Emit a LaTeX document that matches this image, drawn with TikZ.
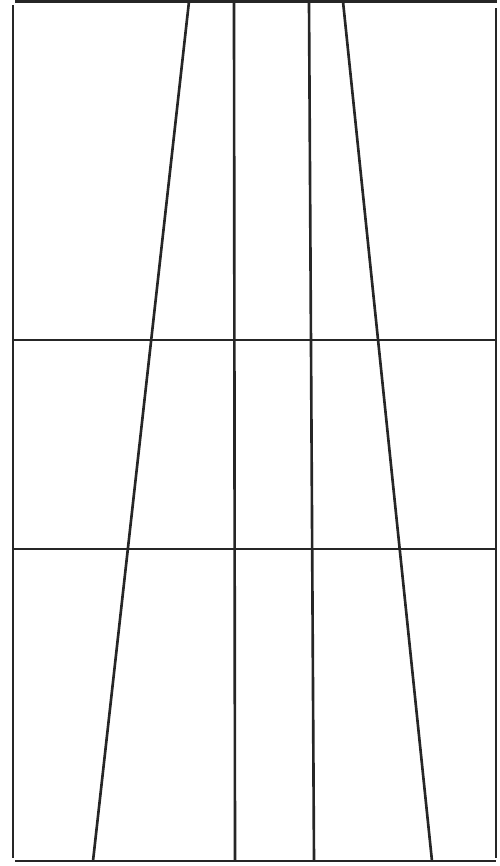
\documentclass[tikz,border=0pt]{standalone}
\usepackage{tikz}
\begin{document}
\begin{tikzpicture}[x=0.01cm, y=-0.01cm,
  ln/.style={draw=black!85,line width=0.75pt}]
\useasboundingbox (0,0) rectangle (500,866);
% frame
\draw[ln] (13,5)--(13,858);
\draw[ln] (496,8)--(496,858);
\draw[ln] (15,1.5)--(497,1.5);
\draw[ln] (15,861)--(496,861);
% horizontals
\foreach \y in {340,549} \draw[ln] (13,\y)--(496,\y);
% converging lines
\draw[ln] (189,1.5)--(93,861);
\draw[ln] (234,1.5)--(235,861);
\draw[ln] (309,1.5)--(314,861);
\draw[ln] (343,1.5)--(432,861);
\end{tikzpicture}
\end{document}
